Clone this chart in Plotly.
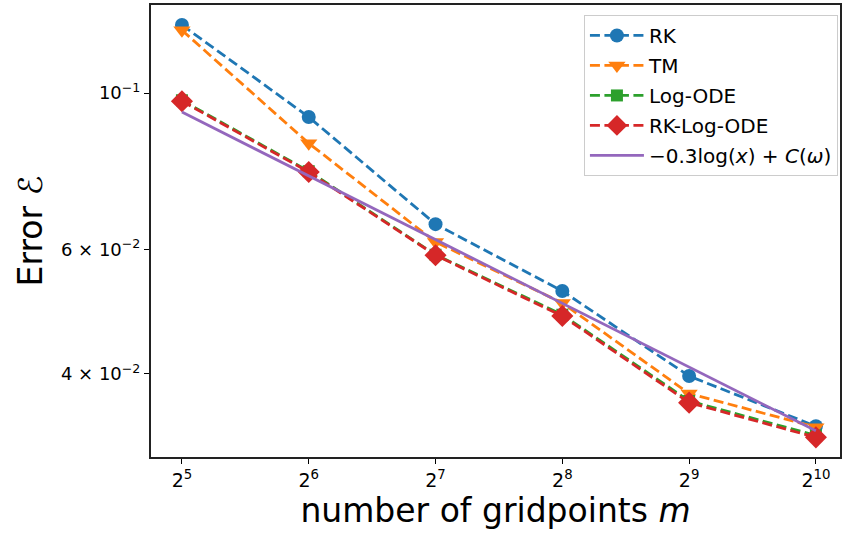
import plotly.graph_objects as go

m = [32, 64, 128, 256, 512, 1024]
x_ticktext = ["2<sup>5</sup>", "2<sup>6</sup>", "2<sup>7</sup>", "2<sup>8</sup>", "2<sup>9</sup>", "2<sup>10</sup>"]

rk = [0.1249, 0.0925, 0.0652, 0.0524, 0.0397, 0.0337]
tm = [0.1228, 0.0849, 0.0615, 0.0504, 0.0375, 0.0336]
log_ode = [0.0977, 0.0775, 0.0590, 0.0485, 0.0366, 0.0327]
rk_log_ode = [0.0974, 0.0773, 0.0589, 0.0483, 0.0364, 0.0325]
fit = [0.0940, 0.0763, 0.0620, 0.0503, 0.0409, 0.0332]

y_tickvals = [0.1, 0.06, 0.04]
y_ticktext = ["10<sup>−1</sup>", "6 × 10<sup>−2</sup>", "4 × 10<sup>−2</sup>"]

DASH = "10px,4.5px"
LW = 2.8
fig = go.Figure()
series = [
    ("RK", rk, "#1f77b4", "circle", 14),
    ("TM", tm, "#ff7f0e", "triangle-down", 15),
    ("Log-ODE", log_ode, "#2ca02c", "square", 12),
    ("RK-Log-ODE", rk_log_ode, "#d62728", "diamond", 17),
]
for name, vals, col, sym, sz in series:
    fig.add_trace(go.Scatter(
        x=m, y=vals, name=name, mode="lines+markers", legendgroup=name,
        line=dict(color=col, width=LW, dash=DASH),
        marker=dict(color=col, symbol=sym, size=sz, line=dict(width=0)),
    ))
fig.add_trace(go.Scatter(
    x=m, y=fit, name="−0.3log(<i>x</i>) + <i>C</i>(<i>ω</i>)", mode="lines",
    legendgroup="fit", line=dict(color="#9467bd", width=LW),
))

fig.update_layout(
    width=842, height=537,
    margin=dict(l=151, r=2, t=5, b=80),
    paper_bgcolor="white", plot_bgcolor="white",
    font=dict(family="DejaVu Sans", color="black", size=18),
    showlegend=True,
    legend=dict(
        x=0.997, y=0.978, xanchor="right", yanchor="top",
        bgcolor="rgba(255,255,255,0.8)", bordercolor="#cccccc", borderwidth=1,
        font=dict(size=20), tracegroupgap=1, itemwidth=54,
    ),
    xaxis=dict(
        type="log", range=[4.756 * 0.30103, 10.19 * 0.30103], automargin=False,
        tickvals=m, ticktext=x_ticktext, ticks="outside", ticklen=5,
        tickcolor="black", tickwidth=1, showgrid=False, zeroline=False,
        showline=True, linecolor="#222222", linewidth=2, mirror=True,
        tickfont=dict(size=19),
        title=dict(text="number of gridpoints <i>m</i>", font=dict(size=33), standoff=6),
    ),
    yaxis=dict(
        type="log", range=[-1.516, -0.875], automargin=False,
        tickvals=y_tickvals, ticktext=y_ticktext, ticks="outside", ticklen=5,
        tickcolor="black", tickwidth=1, showgrid=False, zeroline=False,
        showline=True, linecolor="#222222", linewidth=2, mirror=True,
        tickfont=dict(size=18),
        title=dict(text="Error ℰ", font=dict(size=33), standoff=8),
    ),
)
fig.write_html("out.html", config={"displayModeBar": False},
               post_script="document.body.style.margin='0';")
